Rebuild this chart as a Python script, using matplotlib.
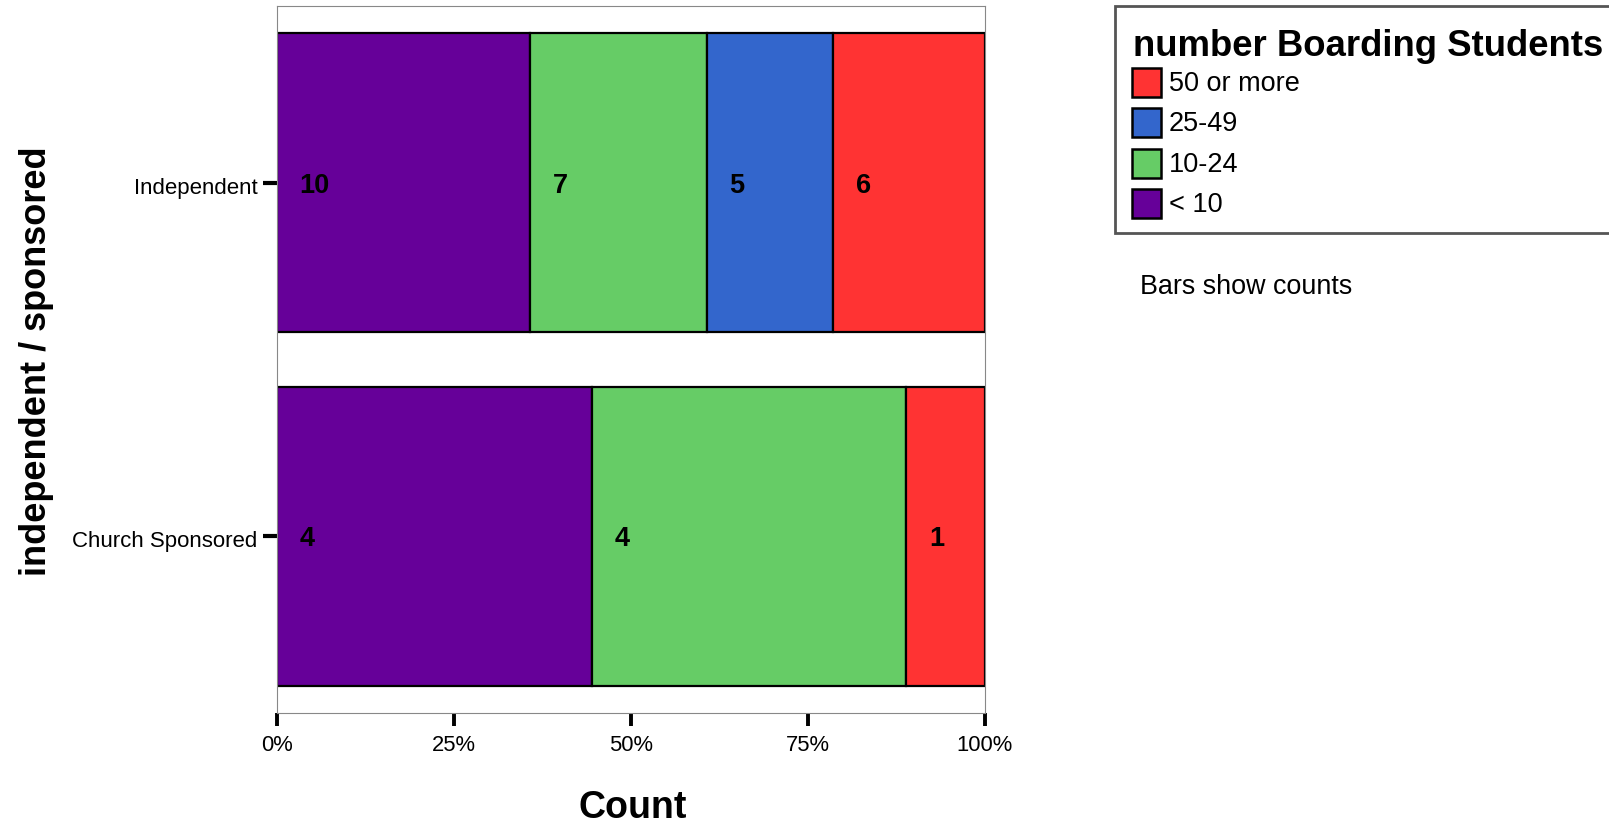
import matplotlib
matplotlib.use("Agg")
import matplotlib.pyplot as plt
from matplotlib.patches import Rectangle
import matplotlib.transforms as mtransforms
import numpy as np

plt.rcParams['font.family'] = ['Liberation Sans', 'DejaVu Sans']

categories = ['Church Sponsored', 'Independent']
series_labels = ['< 10', '10-24', '25-49', '50 or more']
series_colors = ['#660099', '#66CC66', '#3366CC', '#FF3333']
count_under10 = [4, 10]
count_10_24 = [4, 7]
count_25_49 = [0, 5]
count_50_more = [1, 6]
series_counts = [count_under10, count_10_24, count_25_49, count_50_more]
xtick_vals = [0, 25, 50, 75, 100]
xtick_labels = ['0%', '25%', '50%', '75%', '100%']

W, H = 1609, 825
fig = plt.figure(figsize=(W / 100, H / 100), dpi=100)
ax = fig.add_axes([277 / W, 1 - 713 / H, (985 - 277) / W, (713 - 6) / H])

down = mtransforms.ScaledTranslation(0, -3 / 100, fig.dpi_scale_trans)

counts = np.array(series_counts, dtype=float)
totals = counts.sum(axis=0)
pct = counts / totals * 100
y = np.arange(len(categories))
left = np.zeros(len(categories))
for i, lab in enumerate(series_labels):
    for j in range(len(categories)):
        if counts[i, j] > 0:
            ax.barh(y[j], pct[i, j], left=left[j], height=0.845,
                    color=series_colors[i], edgecolor='black', linewidth=1.6, zorder=2)
            ax.text(left[j] + 3.2, y[j], f"{int(counts[i, j])}", ha='left', va='center',
                    fontsize=19.5, fontweight='bold', color='black', zorder=3,
                    transform=ax.transData + down)
    left += pct[i]

ax.set_xlim(0, 100)
ax.set_ylim(-0.50, 1.50)
ax.set_xticks(xtick_vals)
ax.set_xticklabels(xtick_labels, fontsize=15.8)
ax.set_yticks(y)
ax.set_yticklabels(categories, fontsize=16)
ax.tick_params(axis='x', length=9.6, width=2.8, direction='out', pad=6)
ax.tick_params(axis='y', length=10, width=3, direction='out', pad=4)
for lbl in ax.get_yticklabels():
    lbl.set_transform(lbl.get_transform() + down)
for s in ax.spines.values():
    s.set_color('#888888')
    s.set_linewidth(0.8)

fig.text(633 / W, 1 - 808 / H, 'Count', ha='center', va='center', fontsize=27, fontweight='bold')
fig.text(37 / W, 1 - 361 / H, 'independent / sponsored', ha='center', va='center',
         rotation=90, fontsize=26, fontweight='bold')

# legend box
fig.patches.append(Rectangle((1115 / W, 1 - 233 / H), 520 / W, 227 / H,
                             transform=fig.transFigure, facecolor='white',
                             edgecolor='#555555', linewidth=2))
fig.text(1133 / W, 1 - 47 / H, 'number Boarding Students', ha='left', va='center',
         fontsize=26.3, fontweight='bold')
legend_rows = [82, 122, 163, 203]
for k, (lab, col) in enumerate(zip(series_labels[::-1], series_colors[::-1])):
    yc = legend_rows[k]
    fig.patches.append(Rectangle((1132 / W, 1 - (yc + 14.5) / H), 29 / W, 29 / H,
                                 transform=fig.transFigure, facecolor=col,
                                 edgecolor='black', linewidth=1.8))
    fig.text(1169 / W, 1 - (yc + 2) / H, lab, ha='left', va='center', fontsize=19.5)

fig.text(1140 / W, 1 - 287 / H, 'Bars show counts', ha='left', va='center', fontsize=19.4)

fig.savefig('out.png', dpi=100)
